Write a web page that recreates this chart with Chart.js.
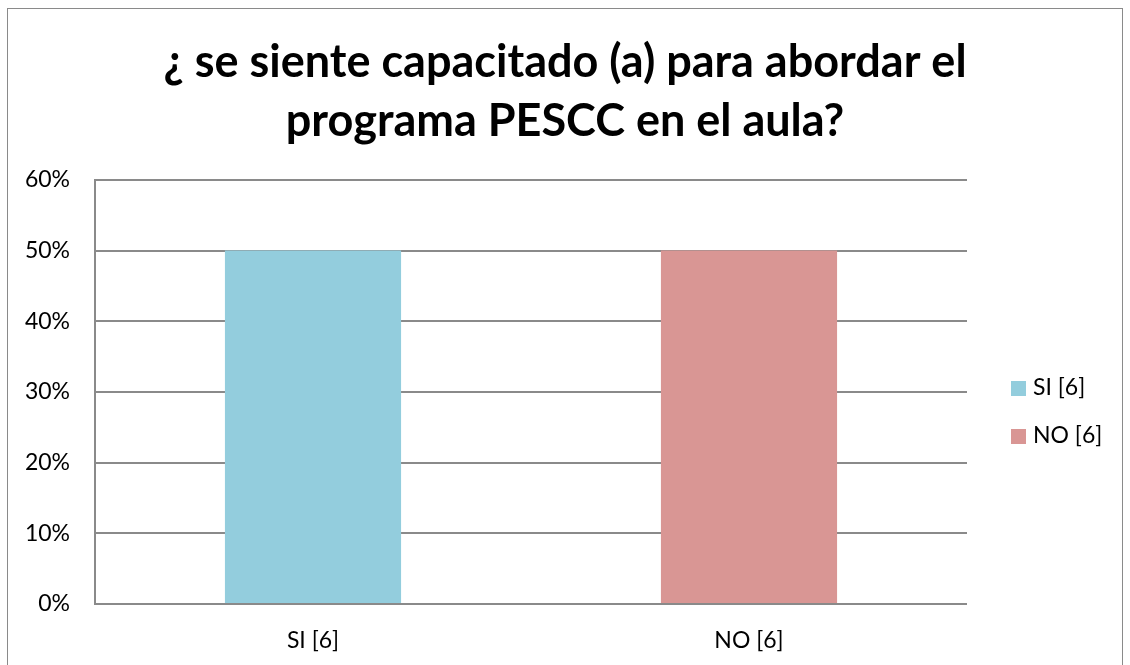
<!DOCTYPE html>
<html>
<head>
  <title>PESCC</title>
  <script src="https://cdn.jsdelivr.net/npm/chart.js@4.4.0/dist/chart.umd.min.js"></script>
  <style>
    body { margin: 0; overflow: hidden; background: #fff; }
    .wrap { position: relative; width: 1130px; height: 665px; }
    .frame {
      position: absolute; left: 7px; top: 8px; width: 1114px; height: 700px;
      border: 1px solid #8a8a8a; pointer-events: none;
    }
  </style>
</head>
<body>
<div class="wrap">
  <canvas id="chart" width="1130" height="665"></canvas>
  <div class="frame"></div>
</div>
<script>
  var titleLines = ['¿ se siente capacitado (a) para abordar el', 'programa PESCC en el aula?'];
  var categories = ['SI [6]', 'NO [6]'];
  var values = [50, 50];
  var barColors = ['#93CDDD', '#D99694'];
  var yTicks = [0, 10, 20, 30, 40, 50, 60];

  var fontFamily = 'Lato, "Open Sans", sans-serif';
  var labelSize = 23;

  // legend drawn by hand so it sits where the original one is
  var sideLegend = {
    id: 'sideLegend',
    afterDraw: function (chart) {
      var ctx = chart.ctx;
      ctx.save();
      ctx.font = labelSize + 'px ' + fontFamily;
      ctx.textBaseline = 'middle';
      ctx.textAlign = 'left';
      for (var i = 0; i < categories.length; i++) {
        var y = 388 + i * 48;
        ctx.fillStyle = barColors[i];
        ctx.fillRect(1011, y - 7, 15, 15);
        ctx.fillStyle = '#000';
        ctx.fillText(categories[i], 1033, y);
      }
      ctx.restore();
    }
  };

  new Chart(document.getElementById('chart').getContext('2d'), {
    type: 'bar',
    data: {
      labels: categories,
      datasets: [{
        data: values,
        backgroundColor: barColors,
        categoryPercentage: 1,
        barPercentage: 0.404
      }]
    },
    options: {
      responsive: false,
      animation: false,
      layout: { padding: 0 },
      plugins: {
        legend: { display: false },
        tooltip: { enabled: false },
        title: {
          display: true,
          text: titleLines,
          color: '#000',
          font: { family: fontFamily, size: 45, weight: 'bold', lineHeight: 1.31 },
          padding: { top: 33, bottom: 29 }
        }
      },
      scales: {
        x: {
          grid: { display: false, drawTicks: false },
          border: { display: false },
          ticks: { color: '#000', font: { family: fontFamily, size: labelSize }, padding: 23 },
          afterFit: function (s) { s.height = 61; }
        },
        y: {
          min: 0,
          max: 60,
          afterBuildTicks: function (s) { s.ticks = yTicks.map(function (v) { return { value: v }; }); },
          grid: { color: '#8a8a8a', lineWidth: 2, drawTicks: false },
          border: { display: true, color: '#8a8a8a', width: 2 },
          ticks: {
            color: '#000',
            font: { family: fontFamily, size: labelSize },
            padding: 25,
            callback: function (v) { return v + '%'; }
          },
          afterFit: function (s) { s.width = 95; }
        },
        // empty axis that keeps the room on the right for the legend
        side: {
          position: 'right',
          grid: { display: false, drawTicks: false },
          border: { display: false },
          ticks: { display: false },
          afterFit: function (s) { s.width = 163; }
        }
      }
    },
    plugins: [sideLegend]
  });
</script>
</body>
</html>
